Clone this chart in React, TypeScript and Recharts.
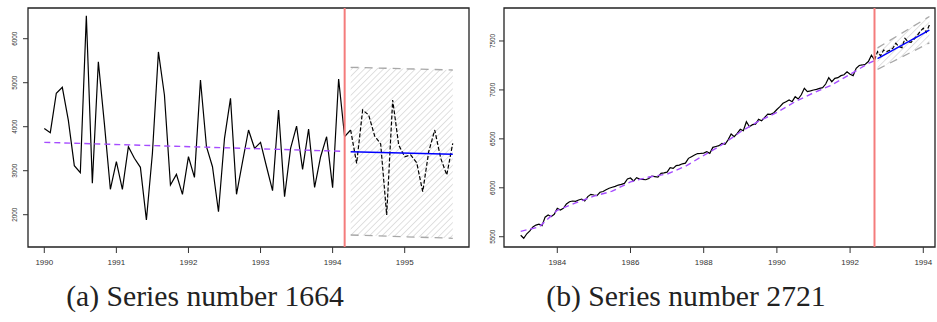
import React from 'react';
import { ComposedChart, Line, Area, XAxis, YAxis, ReferenceLine, ReferenceArea } from 'recharts';

// ---------- Series number 1664 (monthly, from Jan 1990) ----------
const s1664Start = 1990;
const s1664Values = [
  3960, 3864, 4760, 4895, 4150, 3115, 2955, 6523, 2713, 5477, 4077, 2577,
  3205, 2577, 3545, 3282, 3077, 1880, 3395, 5700, 4720, 2675, 2917, 2463,
  3318, 2848, 5061, 3545, 3090, 2068, 3736, 4645, 2463, 3200, 3925, 3509,
  3645, 3090, 2545, 4380, 2409, 3509, 4015, 3030, 3948, 2620, 3318, 3773,
  2614, 5083, 3773, 3925, 3168, 4380, 4266, 3789, 3607, 1993, 4607, 3584,
  3318, 3357, 3182, 2523, 3432, 3925, 3282, 2902, 3623,
];
const s1664TestFrom = 51;
const s1664Split = 1994.167;
const s1664FitYears = [1990, 1994.167];
const s1664FitValues = [3645, 3440];
const s1664FcYears = [1994.25, 1995.667];
const s1664FcMean = [3432, 3373];
const s1664FcLower = [1539, 1464];
const s1664FcUpper = [5350, 5289];
const s1664XTicks = [1990, 1991, 1992, 1993, 1994, 1995];
const s1664YTicks = [2000, 3000, 4000, 5000, 6000];

// ---------- Series number 2721 (monthly, from Jan 1983) ----------
const s2721Start = 1983;
const s2721Values = [
  5515, 5484, 5530, 5560, 5600, 5619, 5628, 5612, 5700, 5722, 5705, 5729,
  5790, 5773, 5790, 5835, 5858, 5865, 5862, 5875, 5885, 5865, 5910, 5933,
  5926, 5920, 5954, 5962, 5980, 5995, 6005, 6015, 6028, 6035, 6045, 6090,
  6100, 6069, 6103, 6089, 6085, 6082, 6095, 6120, 6115, 6110, 6148, 6152,
  6160, 6205, 6198, 6226, 6232, 6245, 6252, 6301, 6318, 6335, 6350, 6352,
  6355, 6369, 6352, 6413, 6422, 6430, 6454, 6445, 6490, 6549, 6522, 6556,
  6597, 6583, 6675, 6624, 6645, 6650, 6699, 6685, 6720, 6753, 6750, 6767,
  6800, 6829, 6863, 6880, 6897, 6880, 6931, 6907, 6950, 7016, 6982, 6990,
  6999, 7005, 7016, 7023, 7060, 7125, 7084, 7118, 7125, 7146, 7155, 7186,
  7160, 7146, 7221, 7250, 7255, 7262, 7290, 7355, 7306, 7391, 7347, 7408,
  7391, 7405, 7425, 7476, 7442, 7432, 7527, 7493, 7486, 7520, 7555, 7600,
  7630, 7589, 7664,
];
const s2721TestFrom = 116;
const s2721Split = 1992.667;
const s2721FitYears = [1983, 1983.5, 1984, 1984.5, 1985, 1985.5, 1986, 1986.5, 1987, 1987.5, 1988, 1988.5, 1989, 1989.5, 1990, 1990.5, 1991, 1991.5, 1992, 1992.5, 1992.667];
const s2721FitValues = [5555, 5600, 5770, 5845, 5915, 5965, 6060, 6110, 6140, 6220, 6330, 6440, 6570, 6680, 6770, 6880, 6970, 7050, 7160, 7270, 7300];
const s2721FcYears = [1992.75, 1994.167];
const s2721FcMean = [7320, 7612];
const s2721FcLower = [7210, 7480];
const s2721FcUpper = [7430, 7750];
const s2721XTicks = [1984, 1986, 1988, 1990, 1992, 1994];
const s2721YTicks = [5500, 6000, 6500, 7000, 7500];

// ---------- helpers ----------
const monthly = (start: number, vals: number[]) => vals.map((v, i) => ({ t: start + i / 12, v }));
const pairs = (ts: number[], vs: number[]) => ts.map((t, i) => ({ t, v: vs[i] }));
const band = (ts: number[], lo: number[], hi: number[]) => ts.map((t, i) => ({ t, r: [lo[i], hi[i]] }));

const FONT = 'Liberation Sans, Arial, Helvetica, sans-serif';
const SERIF = '"Liberation Serif", "DejaVu Serif", serif';

const XTick = (props: any) => {
  const { x, y, payload } = props;
  return (
    <g transform={`translate(${x},${y})`}>
      <text x={0} y={11.5} textAnchor="middle" fontSize={8} fontFamily={FONT} fill="#333" transform="scale(1,0.9)">
        {payload.value}
      </text>
    </g>
  );
};

const makeYTick = (off: number) => (props: any) => {
  const { x, y, payload } = props;
  return (
    <g transform={`translate(${x - off},${y}) rotate(-90)`}>
      <text x={0} y={0} textAnchor="middle" fontSize={8} fontFamily={FONT} fill="#333" transform="scale(0.8,1)">
        {payload.value}
      </text>
    </g>
  );
};

type PanelProps = {
  id: string;
  width: number;
  yAxisWidth: number;
  marginRight: number;
  xDomain: [number, number];
  yDomain: [number, number];
  xTicks: number[];
  yTicks: number[];
  yLabelOff: number;
  actual: { t: number; v: number }[];
  testFrom: number;
  split: number;
  fit: { t: number; v: number }[];
  fcMean: { t: number; v: number }[];
  fcLower: { t: number; v: number }[];
  fcUpper: { t: number; v: number }[];
  fcBand: { t: number; r: number[] }[];
};

const Panel = (p: PanelProps) => {
  const train = p.actual.slice(0, p.testFrom + 1);
  const test = p.actual.slice(p.testFrom);
  return (
    <ComposedChart width={p.width} height={275} margin={{ top: 8, right: p.marginRight, bottom: 0, left: 0 }}>
      <defs>
        <pattern id={`hatch-${p.id}`} patternUnits="userSpaceOnUse" width="4.5" height="4.5" patternTransform="rotate(45)">
          <line x1="0" y1="0" x2="0" y2="4.5" stroke="#bcbcbc" strokeWidth="0.9" />
        </pattern>
      </defs>
      <XAxis
        dataKey="t"
        type="number"
        domain={p.xDomain}
        allowDataOverflow
        ticks={p.xTicks}
        interval={0}
        axisLine={false}
        tickLine={{ stroke: '#333', strokeWidth: 1 }}
        tickSize={6}
        tickMargin={2}
        height={28}
        tick={XTick}
      />
      <YAxis
        type="number"
        domain={p.yDomain}
        allowDataOverflow
        ticks={p.yTicks}
        interval={0}
        axisLine={false}
        tickLine={{ stroke: '#333', strokeWidth: 1 }}
        tickSize={5}
        tickMargin={2}
        width={p.yAxisWidth}
        tick={makeYTick(p.yLabelOff)}
      />
      <Area data={p.fcBand} dataKey="r" type="linear" stroke="none" fill={`url(#hatch-${p.id})`} fillOpacity={1} isAnimationActive={false} />
      <Line data={p.fcUpper} dataKey="v" type="linear" stroke="#a8a8a8" strokeWidth={1.3} strokeDasharray="8 6" dot={false} isAnimationActive={false} />
      <Line data={p.fcLower} dataKey="v" type="linear" stroke="#a8a8a8" strokeWidth={1.3} strokeDasharray="8 6" dot={false} isAnimationActive={false} />
      <Line data={train} dataKey="v" type="linear" stroke="#000" strokeWidth={1.2} dot={false} isAnimationActive={false} />
      <Line data={test} dataKey="v" type="linear" stroke="#000" strokeWidth={1.2} strokeDasharray="4 2" dot={false} isAnimationActive={false} />
      <Line data={p.fit} dataKey="v" type="linear" stroke="#a64dff" strokeWidth={1.4} strokeDasharray="6 4" dot={false} isAnimationActive={false} />
      <Line data={p.fcMean} dataKey="v" type="linear" stroke="#0000ff" strokeWidth={1.4} dot={false} isAnimationActive={false} />
      <ReferenceLine x={p.split} stroke="#f47c7c" strokeWidth={2} ifOverflow="visible" />
      <ReferenceArea
        x1={p.xDomain[0]}
        x2={p.xDomain[1]}
        y1={p.yDomain[0]}
        y2={p.yDomain[1]}
        fill="none"
        stroke="#222"
        strokeWidth={1.3}
        ifOverflow="visible"
      />
    </ComposedChart>
  );
};

export default function App() {
  return (
    <div style={{ position: 'absolute', left: 0, top: 0, width: 937, height: 322, background: '#fff' }}>
      <div style={{ position: 'absolute', left: 0, top: 0 }}>
        <Panel
          id="a"
          width={480}
          yAxisWidth={28}
          marginRight={11}
          xDomain={[1989.774, 1995.892]}
          yDomain={[1266, 6698]}
          xTicks={s1664XTicks}
          yTicks={s1664YTicks}
          yLabelOff={4.3}
          actual={monthly(s1664Start, s1664Values)}
          testFrom={s1664TestFrom}
          split={s1664Split}
          fit={pairs(s1664FitYears, s1664FitValues)}
          fcMean={pairs(s1664FcYears, s1664FcMean)}
          fcLower={pairs(s1664FcYears, s1664FcLower)}
          fcUpper={pairs(s1664FcYears, s1664FcUpper)}
          fcBand={band(s1664FcYears, s1664FcLower, s1664FcUpper)}
        />
      </div>
      <div style={{ position: 'absolute', left: 480, top: 0 }}>
        <Panel
          id="b"
          width={457}
          yAxisWidth={24}
          marginRight={2}
          xDomain={[1982.544, 1994.32]}
          yDomain={[5395, 7837]}
          xTicks={s2721XTicks}
          yTicks={s2721YTicks}
          yLabelOff={1.7}
          actual={monthly(s2721Start, s2721Values)}
          testFrom={s2721TestFrom}
          split={s2721Split}
          fit={pairs(s2721FitYears, s2721FitValues)}
          fcMean={pairs(s2721FcYears, s2721FcMean)}
          fcLower={pairs(s2721FcYears, s2721FcLower)}
          fcUpper={pairs(s2721FcYears, s2721FcUpper)}
          fcBand={band(s2721FcYears, s2721FcLower, s2721FcUpper)}
        />
      </div>
      <svg width={937} height={322} style={{ position: 'absolute', left: 0, top: 0, pointerEvents: 'none' }}>
        <text x={205} y={306} textAnchor="middle" fontSize={28} style={{ fontFamily: SERIF }} fill="#222" transform="translate(205,306) scale(1.06,1.08) translate(-205,-306)">
          (a) Series number 1664
        </text>
        <text x={686} y={306} textAnchor="middle" fontSize={28} style={{ fontFamily: SERIF }} fill="#222" transform="translate(686,306) scale(1.06,1.08) translate(-686,-306)">
          (b) Series number 2721
        </text>
      </svg>
    </div>
  );
}
